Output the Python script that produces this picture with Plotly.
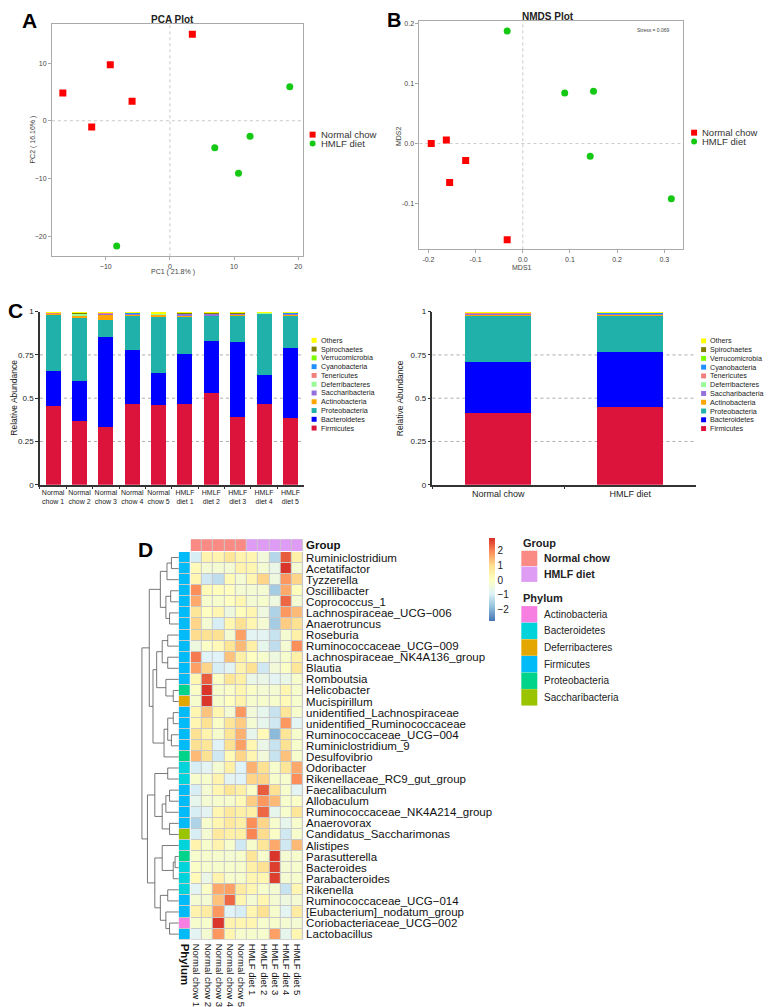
import plotly.graph_objects as go

W, H = 774, 1007
# the page body has an 8px margin, so the figure is drawn 8px in and 8px down
OX, OY = 8, 8
FW, FH = W - OX, H - OY
FONT = "Arial, Liberation Sans, sans-serif"

# ---------------- data ----------------
# A: PCA
pca_nc_x = [-16.7, -9.3, -5.9, -12.2, 3.5]
pca_nc_y = [4.8, 9.7, 3.4, -1.1, 15.0]
pca_hd_x = [18.7, 7.0, 12.5, 10.7, -8.3]
pca_hd_y = [5.9, -4.7, -2.7, -9.1, -21.7]

# B: NMDS
nmds_nc_x = [-0.194, -0.162, -0.121, -0.155, -0.033]
nmds_nc_y = [0.000, 0.006, -0.028, -0.065, -0.160]
nmds_hd_x = [-0.033, 0.089, 0.150, 0.143, 0.315]
nmds_hd_y = [0.187, 0.084, 0.087, -0.021, -0.092]

# C: relative abundance (phylum level)
sample_labels = ["Normal<br>chow 1", "Normal<br>chow 2", "Normal<br>chow 3", "Normal<br>chow 4", "Normal<br>chow 5",
                 "HMLF<br>diet 1", "HMLF<br>diet 2", "HMLF<br>diet 3", "HMLF<br>diet 4", "HMLF<br>diet 5"]
group_labels = ["Normal chow", "HMLF diet"]

firmicutes = [0.457, 0.371, 0.333, 0.465, 0.463, 0.469, 0.530, 0.394, 0.465, 0.385]
bacteroidetes = [0.200, 0.227, 0.520, 0.312, 0.185, 0.289, 0.300, 0.433, 0.171, 0.405]
proteobacteria = [0.328, 0.373, 0.101, 0.200, 0.323, 0.217, 0.147, 0.154, 0.354, 0.191]
actinobacteria = [0.006, 0.006, 0.030, 0.008, 0.012, 0.004, 0.003, 0.005, 0.002, 0.006]
saccharibacteria = [0.002, 0.004, 0.006, 0.006, 0.005, 0.010, 0.010, 0.004, 0.002, 0.004]
deferribacteres = [0.001, 0.009, 0.004, 0.001, 0.001, 0.001, 0.001, 0.001, 0.001, 0.001]
tenericutes = [0.001, 0.002, 0.001, 0.002, 0.002, 0.002, 0.002, 0.002, 0.001, 0.002]
cyanobacteria = [0.001, 0.001, 0.001, 0.001, 0.001, 0.001, 0.001, 0.001, 0.001, 0.001]
verrucomicrobia = [0.000, 0.001, 0.000, 0.000, 0.000, 0.000, 0.000, 0.000, 0.000, 0.000]
spirochaetes = [0.001, 0.001, 0.001, 0.001, 0.002, 0.002, 0.002, 0.002, 0.001, 0.001]
others = [0.003, 0.005, 0.003, 0.004, 0.006, 0.005, 0.004, 0.004, 0.002, 0.004]

grp_firmicutes = [0.417, 0.450]
grp_bacteroidetes = [0.292, 0.318]
grp_proteobacteria = [0.264, 0.213]
grp_actinobacteria = [0.012, 0.004]
grp_saccharibacteria = [0.005, 0.006]
grp_deferribacteres = [0.003, 0.001]
grp_tenericutes = [0.002, 0.002]
grp_cyanobacteria = [0.001, 0.001]
grp_verrucomicrobia = [0.000, 0.000]
grp_spirochaetes = [0.001, 0.002]
grp_others = [0.003, 0.003]

phyla_names = ["Firmicutes", "Bacteroidetes", "Proteobacteria", "Actinobacteria", "Saccharibacteria",
               "Deferribacteres", "Tenericutes", "Cyanobacteria", "Verrucomicrobia", "Spirochaetes", "Others"]
phyla_colors = ["#DC143C", "#0000FF", "#20B2AA", "#FFA500", "#9370DB",
                "#98FB98", "#F08080", "#1E90FF", "#7CFC00", "#808000", "#FFFF00"]
sample_series = [firmicutes, bacteroidetes, proteobacteria, actinobacteria, saccharibacteria,
                 deferribacteres, tenericutes, cyanobacteria, verrucomicrobia, spirochaetes, others]
group_series = [grp_firmicutes, grp_bacteroidetes, grp_proteobacteria, grp_actinobacteria, grp_saccharibacteria,
                grp_deferribacteres, grp_tenericutes, grp_cyanobacteria, grp_verrucomicrobia, grp_spirochaetes,
                grp_others]

# D: heatmap of z-scored genus abundance
heat_cols = ["Normal chow 1", "Normal chow 2", "Normal chow 3", "Normal chow 4", "Normal chow 5",
             "HMLF diet 1", "HMLF diet 2", "HMLF diet 3", "HMLF diet 4", "HMLF diet 5"]
heat_col_group = [0, 0, 0, 0, 0, 1, 1, 1, 1, 1]
heat_rows = ["Ruminiclostridium", "Acetatifactor", "Tyzzerella", "Oscillibacter", "Coprococcus_1",
             "Lachnospiraceae_UCG\u2212006", "Anaerotruncus", "Roseburia", "Ruminococcaceae_UCG\u2212009",
             "Lachnospiraceae_NK4A136_group", "Blautia", "Romboutsia", "Helicobacter", "Mucispirillum",
             "unidentified_Lachnospiraceae", "unidentified_Ruminococcaceae", "Ruminococcaceae_UCG\u2212004",
             "Ruminiclostridium_9", "Desulfovibrio", "Odoribacter", "Rikenellaceae_RC9_gut_group",
             "Faecalibaculum", "Allobaculum", "Ruminococcaceae_NK4A214_group", "Anaerovorax",
             "Candidatus_Saccharimonas", "Alistipes", "Parasutterella", "Bacteroides", "Parabacteroides",
             "Rikenella", "Ruminococcaceae_UCG\u2212014", "[Eubacterium]_nodatum_group",
             "Coriobacteriaceae_UCG\u2212002", "Lactobacillus"]
heat_z = [
    [-1.0, 0.4, 0.4, 0.8, 0.4, 0.3, -0.4, -1.4, 2.4, 0.5],
    [0.2, -0.3, -0.3, -0.3, 0.4, 0.3, -0.3, -0.6, 2.8, -0.3],
    [0.3, -1.1, -1.3, 0.2, -0.3, 0.3, 1.1, -0.5, 1.8, 1.1],
    [1.9, 0.2, 0.1, 0.0, -0.3, -0.3, -0.3, -1.6, 1.6, 0.1],
    [1.6, -0.2, -0.2, 0.0, 0.3, -0.3, -0.2, -0.5, 2.3, -0.3],
    [0.8, 0.0, 0.3, -0.5, 0.1, 0.3, -0.5, -1.5, 1.8, 1.4],
    [1.1, -0.3, -1.0, 0.3, 0.9, 0.3, -0.3, -1.6, 1.2, 0.9],
    [1.0, 0.9, 0.9, -0.3, 1.7, -0.8, -0.8, -1.2, -0.3, 0.5],
    [-0.5, -0.1, 0.2, 0.8, 1.4, 0.5, -0.7, -1.3, -0.3, 1.9],
    [2.1, -0.9, -0.9, 1.3, 0.5, 0.0, -0.2, -0.5, -0.2, 0.5],
    [1.7, 1.1, -1.0, -0.8, 0.4, 0.9, -1.1, -0.4, -0.1, 0.8],
    [0.3, 2.4, -0.1, 0.8, 0.5, -0.6, -0.6, -0.8, -0.6, -0.2],
    [-0.1, 2.8, -0.2, -0.1, 0.3, -0.1, -0.3, -0.3, 0.3, -0.2],
    [-0.2, 2.8, -0.2, 0.0, 0.4, -0.2, -0.2, -0.2, 0.2, -0.2],
    [0.3, 1.3, 0.3, -0.3, 1.8, -0.4, -0.7, -1.2, 0.8, -0.2],
    [0.3, 0.9, -0.1, 0.8, 1.2, -0.3, -0.7, -1.1, 1.8, -0.8],
    [0.9, 0.4, -0.2, 0.8, 1.5, -0.7, 0.2, -1.9, 0.8, -0.2],
    [0.9, 0.8, -0.9, 0.9, 1.7, 0.3, -0.6, -1.2, 0.9, -0.2],
    [1.4, 0.9, -1.1, 0.2, 1.1, 0.3, -0.4, -1.2, 1.3, -0.2],
    [-1.0, -0.8, -0.3, 0.5, -0.9, 1.5, 0.9, -0.2, 0.8, 1.6],
    [-0.2, -0.2, 0.4, -0.8, -0.9, 1.1, 1.1, -0.2, -0.2, 1.9],
    [-1.0, -0.3, 0.3, 0.8, 0.5, -0.1, 2.4, 0.9, -0.2, -0.8],
    [-0.7, -0.3, -0.2, -0.2, 0.2, 1.2, 1.8, 1.4, -0.2, -0.1],
    [-1.0, -0.8, 0.3, 0.7, 0.5, 0.5, 2.3, -0.7, -0.2, 0.8],
    [-1.5, -0.2, 0.3, 0.7, 0.5, 1.9, 1.1, -0.2, -0.7, -0.2],
    [-1.0, -0.3, 0.7, 0.5, 0.5, 2.0, 1.0, -0.1, -1.1, -0.2],
    [0.4, -0.2, 0.4, -0.2, -1.1, -0.2, 0.8, 1.6, -1.1, 1.4],
    [-0.2, -0.2, -0.2, -0.3, -0.2, 0.8, -0.2, 2.8, -0.3, -0.2],
    [-0.1, -0.2, -0.2, -0.2, -0.2, 0.5, 0.9, 2.7, -0.3, -0.2],
    [0.2, -0.6, 0.4, -0.2, -0.2, 0.3, 0.3, 2.7, -0.3, -0.2],
    [-0.8, -0.1, 1.6, 1.7, 0.6, 0.3, -0.2, -0.3, -1.2, 0.3],
    [-0.3, -0.3, 1.3, 2.3, 0.3, -0.3, 0.3, -0.3, -0.5, -0.3],
    [0.4, 0.6, 1.8, -0.9, -1.0, 0.3, 0.9, -0.2, -0.8, 0.6],
    [-0.2, -0.2, 2.8, 0.4, 0.3, 0.3, -0.2, -0.2, -0.3, -0.3],
    [-0.8, -0.3, 1.8, 0.3, -0.2, -0.2, -0.2, 1.7, -0.7, 0.3],
]
# phylum index of each genus (into heat_phyla)
heat_phyla = ["Actinobacteria", "Bacteroidetes", "Deferribacteres", "Firmicutes", "Proteobacteria", "Saccharibacteria"]
heat_phyla_colors = ["#F77FE2", "#00D3DA", "#E3A700", "#00BBF7", "#00D48A", "#9BC400"]
heat_row_phylum = [3, 3, 3, 3, 3, 3, 3, 3, 3, 3, 3, 3, 4, 2, 3, 3, 3, 3, 4, 1, 1,
                   3, 3, 3, 3, 5, 1, 4, 1, 1, 1, 3, 3, 0, 3]
group_colors = ["#F98B84", "#DE9CF5"]

# row dendrogram: [height, left, right], leaves are row indices
row_tree = [10,
            [8,
             [5, [3.2, [2, 0, 1], 2], [3.5, [2.2, 3, 4], [2.5, 5, 6]]],
             [7, [6, [4.5, [3, 7, 8], [3, 9, 10]], [3.5, 11, [1.5, 12, 13]]],
              [4, [3, [1.5, 14, 15], [2, 16, 17]], 18]]],
            [8.5,
             [6.5, [3, 19, 20], [4.5, [3.5, [2.5, 21, 22], 23], [2.5, 24, 25]]],
             [6.5, [4.5, 26, [1.5, [1, 27, 28], 29]], [5, [3, 30, 31], [3.5, 32, [2.5, 33, 34]]]]]]


# ---------------- helpers ----------------
def px(x):
    return (x - OX) / FW


def py(y):
    return 1 - (y - OY) / FH


def xd(x0, x1):
    return [px(x0), px(x1)]


def yd(y0, y1):
    return [py(y1), py(y0)]


annotations = []
shapes = []


def text(x, y, s, size, bold=False, anchor="center", color="#222", angle=0, family=FONT):
    annotations.append(dict(
        x=px(x), y=py(y), xref="paper", yref="paper", showarrow=False,
        text=f"<b>{s}</b>" if bold else s, xanchor=anchor, yanchor="middle", textangle=angle,
        font=dict(size=size, color=color, family=family)))


def legend_boxes(x, y0, step, names, colors, box_w, box_h, size, bold=False, gap=3):
    for i, (n, c) in enumerate(zip(names, colors)):
        yc = y0 + i * step
        shapes.append(dict(type="rect", xref="paper", yref="paper",
                           x0=px(x), x1=px(x + box_w), y0=py(yc + box_h / 2), y1=py(yc - box_h / 2),
                           fillcolor=c, line=dict(width=0)))
        text(x + box_w + gap, yc, n, size, bold=bold, anchor="left")


def dendro(node, xs, ys):
    if isinstance(node, int):
        return node, 0
    h, a, b = node
    ya, ha = dendro(a, xs, ys)
    yb, hb = dendro(b, xs, ys)
    xs += [ha, h, h, hb, None]
    ys += [ya, ya, yb, yb, None]
    return (ya + yb) / 2, h


fig = go.Figure()

# ---------------- A / B scatter ----------------
fig.add_trace(go.Scatter(x=pca_nc_x, y=pca_nc_y, mode="markers", xaxis="x", yaxis="y",
                         marker=dict(symbol="square", size=7, color="#FF0000")))
fig.add_trace(go.Scatter(x=pca_hd_x, y=pca_hd_y, mode="markers", xaxis="x", yaxis="y",
                         marker=dict(symbol="circle", size=7, color="#14C814")))
fig.add_trace(go.Scatter(x=nmds_nc_x, y=nmds_nc_y, mode="markers", xaxis="x2", yaxis="y2",
                         marker=dict(symbol="square", size=7, color="#FF0000")))
fig.add_trace(go.Scatter(x=nmds_hd_x, y=nmds_hd_y, mode="markers", xaxis="x2", yaxis="y2",
                         marker=dict(symbol="circle", size=7, color="#14C814")))

# ---------------- C stacked bars ----------------
for name, color, vals, gvals in zip(phyla_names, phyla_colors, sample_series, group_series):
    fig.add_trace(go.Bar(x=sample_labels, y=vals, name=name, marker=dict(color=color, line=dict(width=0)),
                         width=0.57, xaxis="x3", yaxis="y3"))
    fig.add_trace(go.Bar(x=group_labels, y=gvals, name=name, marker=dict(color=color, line=dict(width=0)),
                         width=0.5, xaxis="x4", yaxis="y4"))

# ---------------- D heatmap ----------------
heat_scale = [[0, "#4575B4"], [1 / 6, "#91BFDB"], [2 / 6, "#E0F3F8"], [3 / 6, "#FFFFBF"],
              [4 / 6, "#FEE090"], [5 / 6, "#FC8D59"], [1, "#D73027"]]
fig.add_trace(go.Heatmap(
    z=heat_z, x=list(range(len(heat_cols))), y=list(range(len(heat_rows))),
    xaxis="x5", yaxis="y5", colorscale=heat_scale, zmin=-2.78, zmax=2.85, xgap=1, ygap=1,
    colorbar=dict(x=px(490), xanchor="left", y=py(540), yanchor="top", len=84 / FH, lenmode="fraction",
                  thickness=6, outlinewidth=0, xpad=0, ypad=0, ticks="", ticklabelposition="outside",
                  tickvals=[-2, -1, 0, 1, 2], ticktext=["\u22122", "\u22121", "0", "1", "2"],
                  tickfont=dict(size=10, family=FONT, color="#222"))))

n_ph = len(heat_phyla_colors)
ph_scale = []
for i, c in enumerate(heat_phyla_colors):
    ph_scale += [[i / n_ph, c], [(i + 1) / n_ph, c]]
fig.add_trace(go.Heatmap(z=[[p] for p in heat_row_phylum], x=[0], y=list(range(len(heat_rows))),
                         xaxis="x7", yaxis="y5", colorscale=ph_scale, zmin=-0.5, zmax=n_ph - 0.5,
                         showscale=False, ygap=1))
fig.add_trace(go.Heatmap(z=[heat_col_group], x=list(range(len(heat_cols))), y=[0],
                         xaxis="x5", yaxis="y6",
                         colorscale=[[0, group_colors[0]], [0.5, group_colors[0]],
                                     [0.5, group_colors[1]], [1, group_colors[1]]],
                         zmin=0, zmax=1, showscale=False, xgap=1))

dx, dy = [], []
dendro(row_tree, dx, dy)
fig.add_trace(go.Scatter(x=dx, y=dy, mode="lines", xaxis="x8", yaxis="y5",
                         line=dict(color="#555555", width=0.8)))

# gray cell borders behind the heatmaps
for xr, yr in [("x5", "y5"), ("x7", "y5"), ("x5", "y6")]:
    shapes.append(dict(type="rect", xref=f"{xr} domain", yref=f"{yr} domain", x0=0, x1=1, y0=0, y1=1,
                       fillcolor="#C8C8C8", line=dict(width=0), layer="below"))

# ---------------- axes ----------------
tick_small = dict(size=7, color="#444", family=FONT)
frame = dict(showline=True, mirror=True, linecolor="#AAAAAA", linewidth=1, ticks="outside", ticklen=3,
             tickcolor="#AAAAAA", showgrid=False, zeroline=False, tickfont=tick_small)

layout_axes = dict(
    xaxis=dict(domain=xd(52, 303), range=[-18.4, 20.7], anchor="y", tickvals=[-10, 0, 10, 20], **frame),
    yaxis=dict(domain=yd(20, 255), range=[-23.5, 16.8], anchor="x", tickvals=[-20, -10, 0, 10], **frame),
    xaxis2=dict(domain=xd(420, 684), range=[-0.219, 0.340], anchor="y2",
                tickvals=[-0.2, -0.1, 0, 0.1, 0.2, 0.3], ticktext=["-0.2", "-0.1", "0.0", "0.1", "0.2", "0.3"],
                **frame),
    yaxis2=dict(domain=yd(17, 248), range=[-0.176, 0.204], anchor="x2",
                tickvals=[-0.1, 0, 0.1, 0.2], ticktext=["-0.1", "0.0", "0.1", "0.2"], **frame),
)
bar_y = dict(range=[0, 1], tickvals=[0, 0.25, 0.5, 0.75, 1], ticktext=["0", "0.25", "0.5", "0.75", "1"],
             showline=True, linecolor="#333", linewidth=1.5, ticks="outside", ticklen=3, tickcolor="#333",
             showgrid=False, zeroline=False, tickfont=dict(size=8, color="#222", family=FONT))
bar_x = dict(showline=True, linecolor="#333", linewidth=1.5, ticks="outside", ticklen=3, tickcolor="#333",
             tickson="boundaries", showgrid=False, tickangle=0)
layout_axes.update(
    xaxis3=dict(domain=xd(40, 304), anchor="y3", tickfont=dict(size=7, color="#222", family=FONT), **bar_x),
    yaxis3=dict(domain=yd(311, 486), anchor="x3", **bar_y),
    xaxis4=dict(domain=xd(433, 697), anchor="y4", tickfont=dict(size=9, color="#222", family=FONT), **bar_x),
    yaxis4=dict(domain=yd(311, 486), anchor="x4", **bar_y),
)
layout_axes.update(
    xaxis5=dict(domain=xd(191, 303.5), anchor="y5", range=[-0.5, 9.5], tickvals=list(range(10)),
                ticktext=heat_cols, tickangle=90, ticks="", showgrid=False, zeroline=False,
                ticklabelstandoff=3, tickfont=dict(size=9.5, color="#111", family=FONT)),
    yaxis5=dict(domain=yd(554, 946), anchor="x5", side="right", range=[34.5, -0.5],
                tickvals=list(range(len(heat_rows))), ticktext=heat_rows, ticks="", showgrid=False,
                zeroline=False, ticklabelstandoff=2, tickfont=dict(size=11.5, color="#111", family=FONT)),
    yaxis6=dict(domain=yd(541, 553), anchor="x5", side="right", range=[-0.5, 0.5], tickvals=[0],
                ticktext=["<b>Group</b>"], ticks="", showgrid=False, zeroline=False, ticklabelstandoff=2,
                tickfont=dict(size=11.5, color="#111", family=FONT)),
    xaxis7=dict(domain=xd(179, 190), anchor="y5", range=[-0.5, 0.5], tickvals=[0],
                ticktext=["<b>Phylum</b>"], tickangle=90, ticks="", showgrid=False, zeroline=False,
                ticklabelstandoff=3, tickfont=dict(size=11.5, color="#111", family=FONT)),
    xaxis8=dict(domain=xd(141, 179), anchor="y5", range=[10.3, 0], visible=False),
)

# ---------------- reference lines ----------------
for xr, yr in [("x", "y"), ("x2", "y2")]:
    shapes.append(dict(type="line", xref=xr, yref=f"{yr} domain", x0=0, x1=0, y0=0, y1=1,
                       line=dict(color="#BBBBBB", width=0.8, dash="dot"), layer="below"))
    shapes.append(dict(type="line", xref=f"{xr} domain", yref=yr, x0=0, x1=1, y0=0, y1=0,
                       line=dict(color="#BBBBBB", width=0.8, dash="dot"), layer="below"))
for xr, yr in [("x3", "y3"), ("x4", "y4")]:
    for g in [0.25, 0.5, 0.75]:
        shapes.append(dict(type="line", xref=f"{xr} domain", yref=yr, x0=0, x1=1, y0=g, y1=g,
                           line=dict(color="#999999", width=0.8, dash="dot"), layer="below"))

# ---------------- texts & legends ----------------
text(30, 17, "A", 21, bold=True, color="#000")
text(395, 16, "B", 20, bold=True, color="#000")
text(16, 310, "C", 21, bold=True, color="#000")
text(146, 551, "D", 21, bold=True, color="#000")

text(173, 16, "PCA Plot", 10, bold=True)
text(173, 271, "PC1 ( 21.8% )", 7, color="#444")
text(33, 137, "PC2 ( 16.16% )", 7, color="#444", angle=-90)
text(549, 13, "NMDS Plot", 10, bold=True)
text(523, 266, "MDS1", 7, color="#444")
text(399, 133, "MDS2", 7, color="#444", angle=-90)
text(654, 26, "Stress = 0.069", 5, color="#444")

for lx, ly in [(310, 132), (692, 130)]:
    shapes.append(dict(type="rect", xref="paper", yref="paper", x0=px(lx), x1=px(lx + 6),
                       y0=py(ly + 3), y1=py(ly - 3), fillcolor="#FF0000", line=dict(width=0)))
    shapes.append(dict(type="circle", xref="paper", yref="paper", x0=px(lx), x1=px(lx + 6),
                       y0=py(ly + 12), y1=py(ly + 6), fillcolor="#14C814", line=dict(width=0)))
    text(lx + 9, ly, "Normal chow", 9.5, color="#333", anchor="left")
    text(lx + 9, ly + 9, "HMLF diet", 9.5, color="#333", anchor="left")

text(14, 398, "Relative Abundance", 8.5, angle=-90)
text(400, 398, "Relative Abundance", 8.5, angle=-90)
rev_names = phyla_names[::-1]
rev_colors = phyla_colors[::-1]
legend_boxes(312, 340, 8.87, rev_names, rev_colors, 5, 5, 7.2, gap=2)
legend_boxes(702, 340.5, 8.87, rev_names, rev_colors, 5, 5, 7.2, gap=2)

text(522, 545, "Group", 11, bold=True, anchor="left")
legend_boxes(522, 560.5, 16, group_labels, group_colors, 16, 15.5, 10.5, bold=True, gap=5)
text(522, 601, "Phylum", 11, bold=True, anchor="left")
legend_boxes(522, 617, 16.8, heat_phyla, heat_phyla_colors, 16, 16.6, 10, gap=5)

fig.update_layout(
    width=FW, height=FH, margin=dict(l=0, r=0, t=0, b=0),
    paper_bgcolor="white", plot_bgcolor="white",
    barmode="stack", showlegend=False,
    font=dict(family=FONT),
    annotations=annotations, shapes=shapes,
    **layout_axes,
)

fig.write_html("out.html")
